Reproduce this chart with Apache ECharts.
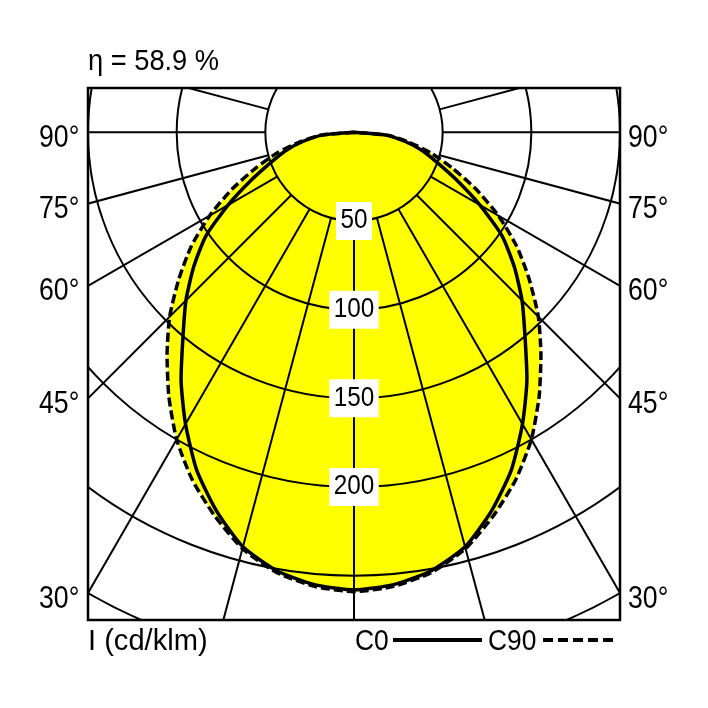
<!DOCTYPE html>
<html lang="en">
<head>
<meta charset="UTF-8">
<title>Light distribution</title>
<style>
  html, body { margin: 0; padding: 0; background: #fff; }
  #chart { width: 708px; height: 708px; }
</style>
</head>
<body>
<div id="chart"></div>
<script src="https://cdn.jsdelivr.net/npm/echarts@6/dist/echarts.min.js"></script>
<script>
// intensity in cd/klm, angle measured from nadir (0) to horizontal (90)
var angles = [0, 5, 10, 15, 20, 25, 30, 35, 40, 45, 50, 55, 60, 65, 70, 75, 80, 85, 90];
var c0  = [258, 256, 251, 242, 227, 210, 190, 170, 150, 134, 118, 102, 82, 64, 50, 40, 29, 18, 0];
var c90 = [259, 257, 252, 243, 230, 216, 200, 182, 164, 147, 129, 112, 94, 76, 59, 45, 31, 19, 0];

var ringValues = [50, 100, 150, 200, 250, 300];
var ringLabels = [50, 100, 150, 200];
var rayAngles = [0, 15, 30, 45, 60, 75, 90, 105, 120, 135, 150, 165, 180];
var sideAngles = [90, 75, 60, 45, 30];
var etaText = 'η = 58.9 %';

// condensed look: Liberation Sans squeezed horizontally
var FONT = "'Liberation Sans', Arial, sans-serif";
var XMAX = 150;

// polar -> cartesian data (side -1 = left half, +1 = right half)
function toXY(a, v, side) {
    var rad = a * Math.PI / 180;
    return [side * v * Math.sin(rad), -v * Math.cos(rad)];
}
function outline(vals) {
    var pts = [];
    for (var i = angles.length - 1; i >= 0; i--) pts.push(toXY(angles[i], vals[i], -1));
    for (var j = 1; j < angles.length; j++) pts.push(toXY(angles[j], vals[j], 1));
    return pts;
}

var fillVals = c0.map(function (v, i) { return Math.max(v, c90[i]); });
var fillPts = outline(fillVals);

var rays = [];
rayAngles.forEach(function (a) {
    rays.push([a, -1]);
    if (a !== 0 && a !== 180) rays.push([a, 1]);
});

// where each labelled ray meets the frame, both sides
var sideMarks = [];
sideAngles.forEach(function (a, i) {
    var r = XMAX / Math.sin(a * Math.PI / 180);
    var l = toXY(a, r, -1), rr = toXY(a, r, 1);
    sideMarks.push([l[0], l[1], i, -1]);
    sideMarks.push([rr[0], rr[1], i, 1]);
});

function txt(x, y, text, size, sx) {
    return {
        type: 'text', x: x, y: y, scaleX: sx,
        style: { text: text, font: size + 'px ' + FONT, fill: '#000', textAlign: 'left', textVerticalAlign: 'middle' }
    };
}

var option = {
    animation: false,
    grid: {
        left: 88, top: 88, width: 532, height: 532,
        show: true, borderColor: '#000', borderWidth: 2.5, backgroundColor: 'transparent'
    },
    xAxis: { type: 'value', min: -XMAX, max: XMAX, show: false },
    yAxis: { type: 'value', min: -275, max: 25, show: false },
    graphic: [
        txt(88, 62, etaText, 29, 0.94),
        txt(88, 642, 'I (cd/klm)', 30, 0.97),
        txt(355, 642, 'C0', 30, 0.88),
        { type: 'line', shape: { x1: 393, y1: 640, x2: 482, y2: 640 }, style: { stroke: '#000', lineWidth: 4 } },
        txt(488, 642, 'C90', 30, 0.88),
        { type: 'line', shape: { x1: 543, y1: 640, x2: 617, y2: 640 }, style: { stroke: '#000', lineWidth: 4, lineDash: [10, 5] } }
    ],
    series: [
        {
            // yellow area of the distribution
            type: 'custom', coordinateSystem: 'cartesian2d', clip: true, z: 1,
            data: [[0, 0]],
            renderItem: function (params, api) {
                return {
                    type: 'polygon',
                    shape: { points: fillPts.map(function (p) { return api.coord(p); }) },
                    style: { fill: '#ffff00', stroke: 'none' }
                };
            }
        },
        {
            // intensity rings
            type: 'custom', coordinateSystem: 'cartesian2d', clip: true, z: 3,
            data: ringValues.map(function (v) { return [v, 0]; }),
            renderItem: function (params, api) {
                var c = api.coord([0, 0]);
                var r = api.size([api.value(0), 0])[0];
                return {
                    type: 'circle',
                    shape: { cx: c[0], cy: c[1], r: r },
                    style: { fill: 'none', stroke: '#000', lineWidth: 2 }
                };
            }
        },
        {
            // angle rays
            type: 'custom', coordinateSystem: 'cartesian2d', clip: true, z: 3,
            data: rays,
            renderItem: function (params, api) {
                var a = api.value(0), s = api.value(1);
                var p1 = api.coord(toXY(a, 50, s));
                var p2 = api.coord(toXY(a, 700, s));
                return {
                    type: 'line',
                    shape: { x1: p1[0], y1: p1[1], x2: p2[0], y2: p2[1] },
                    style: { stroke: '#000', lineWidth: 2 }
                };
            }
        },
        {
            name: 'C90', type: 'line', z: 4, symbol: 'none', smooth: 0.2,
            data: outline(c90),
            lineStyle: { color: '#000', width: 3.5, type: [9, 4] }
        },
        {
            name: 'C0', type: 'line', z: 5, symbol: 'none', smooth: 0.2,
            data: outline(c0),
            lineStyle: { color: '#000', width: 3.5 }
        },
        {
            // intensity labels on the nadir axis
            type: 'custom', coordinateSystem: 'cartesian2d', clip: false, z: 6,
            data: ringLabels.map(function (v) { return [0, -v]; }),
            renderItem: function (params, api) {
                var p = api.coord([api.value(0), api.value(1)]);
                return {
                    type: 'text', x: p[0], y: p[1], scaleX: 0.9,
                    style: {
                        text: String(ringLabels[params.dataIndex]),
                        font: '27px ' + FONT, fill: '#000',
                        textAlign: 'center', textVerticalAlign: 'middle',
                        backgroundColor: '#fff', padding: [6, 5, 5, 5]
                    }
                };
            }
        },
        {
            // angle labels outside the frame
            type: 'custom', coordinateSystem: 'cartesian2d', clip: false, z: 6,
            data: sideMarks,
            renderItem: function (params, api) {
                var p = api.coord([api.value(0), api.value(1)]);
                var side = api.value(3);
                var x = side < 0 ? p[0] - 49 : p[0] + 8;
                return {
                    type: 'text', x: x, y: p[1] + 6, scaleX: 0.86,
                    style: {
                        text: sideAngles[api.value(2)] + '°',
                        font: '31px ' + FONT, fill: '#000',
                        textAlign: 'left', textVerticalAlign: 'middle'
                    }
                };
            }
        }
    ]
};

var chart = echarts.init(document.getElementById('chart'));
chart.setOption(option);
</script>
</body>
</html>
